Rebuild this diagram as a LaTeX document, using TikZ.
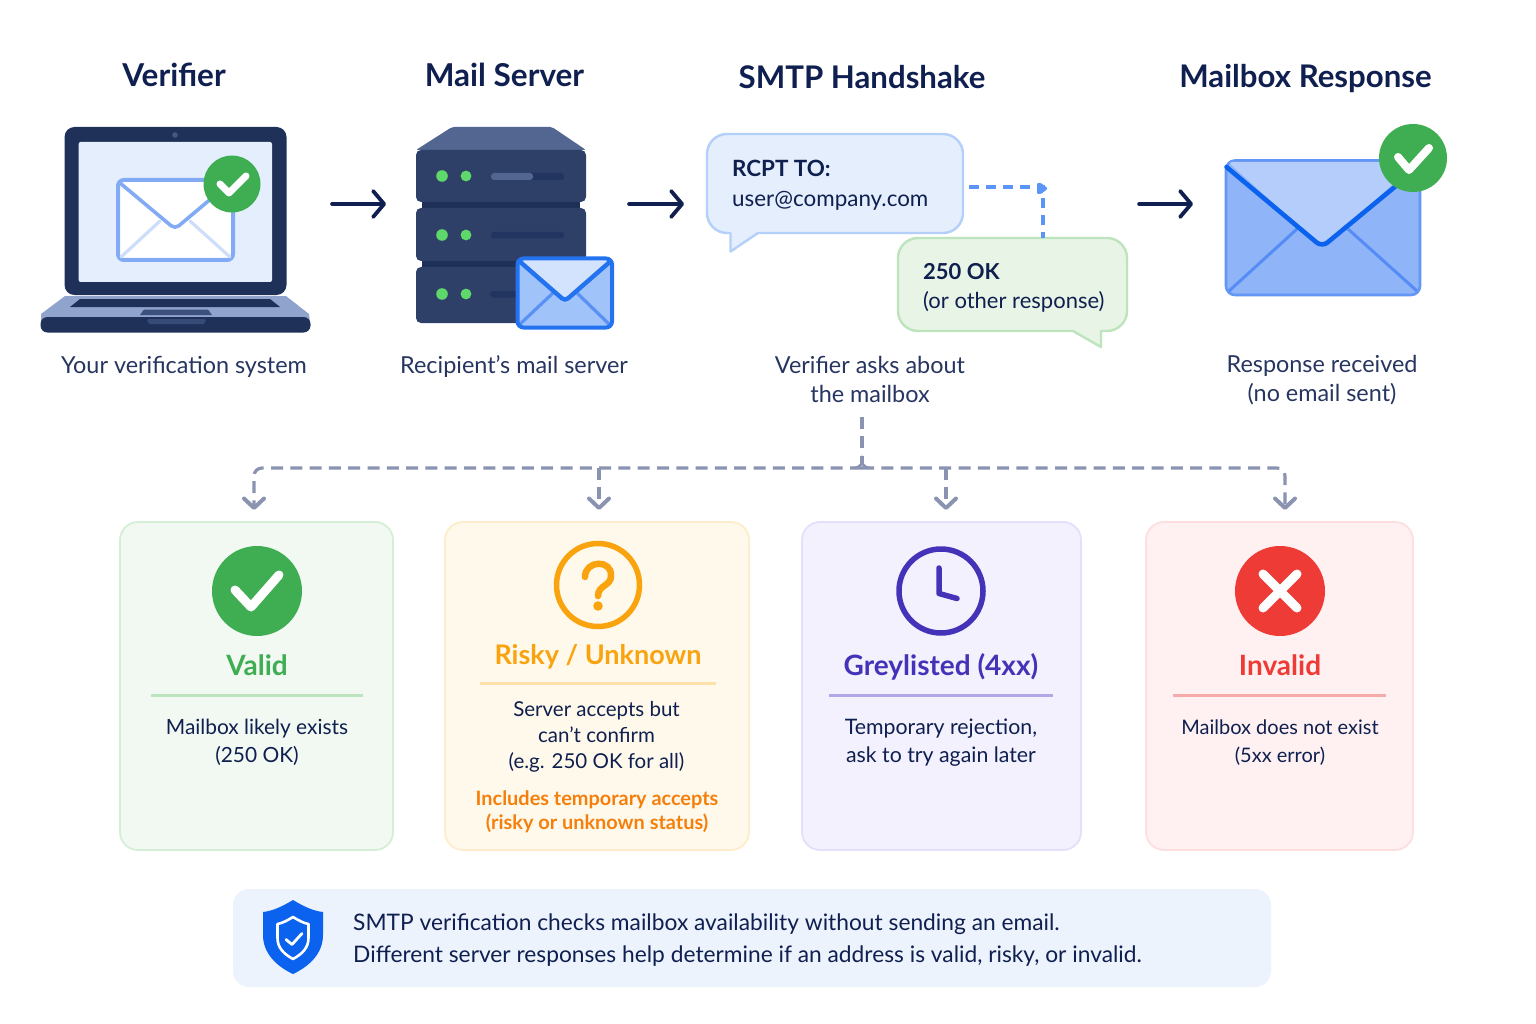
\documentclass[tikz,border=0pt]{standalone}
\usepackage{fontspec}
\setmainfont{Lato}
\usetikzlibrary{arrows.meta,calc}
\definecolor{navy}{HTML}{0F1F4F}
\definecolor{bezel}{HTML}{1F3159}
\definecolor{unitc}{HTML}{2E4068}
\definecolor{okgreen}{HTML}{3FAE52}
\definecolor{ledg}{HTML}{5FD86B}
\definecolor{flowc}{HTML}{8A93B0}
\definecolor{bluel}{HTML}{5B95F7}
\definecolor{blued}{HTML}{0B62EE}
\definecolor{oran}{HTML}{F9A30E}
\definecolor{oran2}{HTML}{F57F0A}
\definecolor{purp}{HTML}{4433B8}
\definecolor{redc}{HTML}{EE3B36}
\tikzset{
  heading/.style={text=navy,font=\fontsize{31.5}{36}\selectfont\bfseries,inner sep=0pt},
  caption/.style={text=navy!90!white,font=\fontsize{23.4}{29}\selectfont,align=center,inner sep=0pt},
  stepflow/.style={navy,line width=3.6pt,line cap=round,line join=round,-{Straight Barb[round,length=11pt,width=26pt,line width=3.8pt]}},
  holder/.style={minimum height=8pt,inner sep=0pt,outer sep=0pt},
  card/.style={rounded corners=18pt,line width=1.8pt,inner sep=0pt,minimum height=328pt},
  cardtitle/.style={font=\fontsize{28}{32}\selectfont\bfseries,inner sep=0pt},
  cardtext/.style={text=navy,font=\fontsize{20.9}{28}\selectfont,align=center,inner sep=0pt},
  rulel/.style={line width=3pt},
  treeline/.style={flowc,line width=3.2pt,dash pattern=on 12pt off 7.3pt,rounded corners=8pt},
  treearrow/.style={treeline,-{Straight Barb[round,length=9.5pt,width=20pt,line width=4pt]}},
  whitemark/.style={white,line cap=round,line join=round},
  bubtext/.style={text=navy,font=\fontsize{22.4}{30}\selectfont,align=left,inner sep=0pt,anchor=west},
}
\begin{document}
\begin{tikzpicture}[x=1pt,y=-1pt]
\useasboundingbox (0,0) rectangle (1536,1024);
\fill[white] (0,0) rectangle (1536,1024);

% headings
\node[heading] (hVer) at (174,75) {Verifier};
\node[heading] (hMail) at (504.5,75) {Mail Server};
\node[heading,font=\fontsize{31.2}{36}\selectfont\bfseries] (hSmtp) at (862,77) {SMTP Handshake};
\node[heading,font=\fontsize{31.2}{36}\selectfont\bfseries] (hBox) at (1305.5,79) {Mailbox Response};

% laptop
\fill[rounded corners=10pt,color=bezel] (64.5,127) rectangle (286.5,295);
\fill[rounded corners=2pt,fill={rgb,255:red,228;green,238;blue,252}] (78.7,142) rectangle (272,282);
\fill[fill={rgb,255:red,70;green,88;blue,130}] (175,135) circle[radius=2.8];
\fill[fill={rgb,255:red,143;green,163;blue,205}] (65,296) -- (286,296) -- (309,314) -- (310,322) -- (41,322) -- (41,314) -- cycle;
\fill[rounded corners=7pt,color=bezel] (40.5,317) -- (310.5,317) -- (310.5,332.5) -- (40.5,332.5) -- cycle;
\fill[color=bezel] (80,299) -- (270,299) -- (280,307) -- (70,307) -- cycle;
\fill[fill={rgb,255:red,60;green,80;blue,125}] (144,309.5) -- (208,309.5) -- (212,315) -- (140,315) -- cycle;
\fill[fill={rgb,255:red,55;green,75;blue,120},rounded corners=2pt] (147,319) -- (206,319) -- (205,324) -- (148,324) -- cycle;
% laptop envelope
\draw[rounded corners=6pt,line width=4pt,draw={rgb,255:red,130;green,170;blue,245},fill=white] (118,180) rectangle (233,260);
\draw[line width=3.2pt,draw={rgb,255:red,205;green,222;blue,250},line cap=round] (121,257) -- (160,221) (230,257) -- (190,221);
\draw[line width=3.6pt,draw={rgb,255:red,130;green,170;blue,245},line join=round,rounded corners=5pt] (120,183) -- (175,229) -- (225,187);
\fill[okgreen] (232,184) circle[radius=28.5];
\draw[whitemark,line width=7pt] (220,184) -- (229,193) -- (246,176);

% server
\fill[fill={rgb,255:red,82;green,102;blue,145},rounded corners=2pt] (452,127) -- (552,127) -- (586,150) -- (416,150) -- cycle;
\fill[fill={rgb,255:red,30;green,47;blue,88}] (422,198) rectangle (580,270);
\foreach \ya/\yb in {150/202,208/261,267/323}{
  \fill[unitc,rounded corners=5pt] (416,\ya) rectangle (586,\yb);
}
\foreach \yy in {176,235,294}{
  \fill[ledg] (442,\yy) circle[radius=5.8];
  \fill[ledg] (466,\yy) circle[radius=5.4];
}
\fill[fill={rgb,255:red,34;green,52;blue,96},rounded corners=3pt] (491,173) rectangle (564,180);
\fill[fill={rgb,255:red,82;green,102;blue,145},rounded corners=3pt] (491,173) rectangle (533,180);
\fill[fill={rgb,255:red,34;green,52;blue,96},rounded corners=3pt] (491,232) rectangle (564,238.5);
\fill[fill={rgb,255:red,34;green,52;blue,96},rounded corners=3pt] (490,291) rectangle (530,297.5);
% server envelope
\fill[rounded corners=6pt,fill={rgb,255:red,160;green,195;blue,250}] (517,258) rectangle (612,328);
\fill[fill={rgb,255:red,212;green,227;blue,253}] (519,260) -- (610,260) -- (565,300) -- cycle;
\draw[line width=3.2pt,draw={rgb,255:red,90;green,145;blue,245}] (519,325) -- (553,293) (610,325) -- (577,293);
\draw[line width=4.4pt,draw=blued!90!white,line join=round,rounded corners=4pt] (518,260) -- (565,301) -- (612,260);
\draw[rounded corners=6pt,line width=4pt,draw=blued!90!white] (517.5,258.5) rectangle (612,327.5);

% bubbles
\draw[line width=2.4pt,draw={rgb,255:red,180;green,208;blue,250},fill={rgb,255:red,228;green,238;blue,252},line join=round]
  (727,134) -- (943,134) arc[start angle=-90,end angle=0,radius=20] -- (963,213) arc[start angle=0,end angle=90,radius=20]
  -- (758,233) -- (730.5,251.5) -- (730.5,233) -- (727,233) arc[start angle=90,end angle=180,radius=20] -- (707,154) arc[start angle=180,end angle=270,radius=20] -- cycle;
\draw[line width=2.4pt,draw={rgb,255:red,190;green,228;blue,190},fill={rgb,255:red,232;green,245;blue,230},line join=round]
  (918,238) -- (1107,238) arc[start angle=-90,end angle=0,radius=20] -- (1127,311) arc[start angle=0,end angle=90,radius=20]
  -- (1101,331) -- (1101,347) -- (1073,331) -- (918,331) arc[start angle=90,end angle=180,radius=20] -- (898,258) arc[start angle=180,end angle=270,radius=20] -- cycle;
\node[minimum width=256pt,minimum height=99pt,inner sep=0pt] (bubA) at (835,183.5) {};
\node[minimum width=229pt,minimum height=93pt,inner sep=0pt] (bubB) at (1012.5,284.5) {};
\node[bubtext] (tA) at (732,185.5) {\textbf{RCPT TO:}\\user@company.com};
\node[bubtext,font=\fontsize{22}{29.5}\selectfont] (tB) at (923,288) {\textbf{250 OK}\\(or other response)};
\coordinate (bend) at (1043,187);
\draw[bluel,line width=3.4pt,dash pattern=on 10pt off 7pt] ([yshift=-3.5pt,xshift=6pt]bubA.east) -- (bend) -- ([xshift=30.5pt]bubB.north);
\fill[bluel,rounded corners=1pt] (1037,183) -- (1041,183) -- (1048,188.5) -- (1041,194) -- (1037,194) -- cycle;

% big envelope
\fill[rounded corners=9pt,fill={rgb,255:red,143;green,180;blue,248}] (1226,160.5) rectangle (1420,295);
\draw[rounded corners=9pt,line width=2.6pt,draw={rgb,255:red,100;green,150;blue,245}] (1226,160.5) rectangle (1420,295);
\fill[fill={rgb,255:red,180;green,205;blue,251},rounded corners=4pt] (1228,162) -- (1418,162) -- (1322,247) -- cycle;
\draw[line width=3pt,draw={rgb,255:red,85;green,140;blue,245}] (1229,291) -- (1297,229) (1417,291) -- (1348,229);
\draw[line width=4.6pt,draw=blued,line cap=round,rounded corners=7pt] (1226.5,167) -- (1322,247) -- (1408,176);
\fill[okgreen] (1413,158) circle[radius=34];
\draw[whitemark,line width=8pt] (1398,157) -- (1409,170) -- (1429,148);

% invisible icon holders for the top row arrows
\node[holder,minimum width=270pt] (laptop) at (175.5,204) {};
\node[holder,minimum width=197pt] (server) at (514.5,204) {};
\node[holder,minimum width=420pt] (shake) at (917,204) {};
\node[holder,minimum width=195pt] (envl) at (1322.5,204) {};
\draw[stepflow,shorten <=21.5pt,shorten >=30pt] (laptop.east) -- (server.west);
\draw[stepflow,shorten <=16pt,shorten >=23pt] (server.east) -- (shake.west);
\draw[stepflow,shorten <=12pt,shorten >=32pt] (shake.east) -- (envl.west);

% captions
\node[caption] (cVer) at (184,367) {Your verification system};
\node[caption] (cMail) at (514,366.5) {Recipient’s mail server};
\node[caption] (cSmtp) at (870,379.5) {Verifier asks about\\the mailbox};
\node[caption] (cBox) at (1322,380) {Response received\\(no email sent)};

% cards
\node[card,minimum width=273pt,draw={rgb,255:red,213;green,239;blue,215},fill={rgb,255:red,242;green,249;blue,242}] (cardV) at (256.5,686) {};
\node[card,minimum width=304pt,draw={rgb,255:red,254;green,236;blue,204},fill={rgb,255:red,255;green,249;blue,236}] (cardR) at (597,686) {};
\node[card,minimum width=279pt,draw={rgb,255:red,226;green,224;blue,251},fill={rgb,255:red,242;green,241;blue,253}] (cardG) at (941.5,686) {};
\node[card,minimum width=267pt,draw={rgb,255:red,254;green,223;blue,223},fill={rgb,255:red,255;green,241;blue,241}] (cardI) at (1279.5,686) {};

% tree
\coordinate (hub) at (862,468);
\coordinate (dropV) at (254,510);
\coordinate (dropR) at (599,510);
\coordinate (dropG) at (946,510);
\coordinate (dropI) at (1285,510);
\draw[treeline,shorten <=14pt,shorten >=4pt] (cSmtp.south -| hub) -- (hub);
\draw[treearrow] (hub) -| (dropV);
\draw[treearrow] (hub) -| (dropI);
\draw[treearrow] (hub -| dropR) -- (dropR);
\draw[treearrow] (hub -| dropG) -- (dropG);
\draw[flowc,line width=2.6pt,line cap=round] (855,468) .. controls (859,467) and (862,465) .. (862,461) .. controls (862,465) and (865,467) .. (869,468);

% valid
\fill[okgreen] (257,591) circle[radius=45];
\draw[whitemark,line width=9pt] (235,590) -- (251,607) -- (279,575);
\node[cardtitle,text=okgreen] (tV) at (257,665.5) {Valid};
\draw[rulel,draw={rgb,255:red,188;green,228;blue,190}] (151,695) -- (363,695);
\node[cardtext] (bV) at (257,742.5) {Mailbox likely exists\\(250 OK)};

% risky
\draw[oran,line width=5.5pt] (598,585) circle[radius=41.5];
\draw[oran,line width=6.5pt,line cap=round] (585,577) .. controls (585,560) and (612,559) .. (611,576) .. controls (611,586) and (598,585) .. (598,596);
\fill[oran] (598,606) circle[radius=4.8];
\node[cardtitle,text=oran,font=\fontsize{27}{32}\selectfont\bfseries] (tR) at (598,657) {Risky / Unknown};
\draw[rulel,draw={rgb,255:red,253;green,224;blue,170}] (480,683.5) -- (716,683.5);
\node[cardtext,font=\fontsize{20.5}{26}\selectfont] (bR) at (596.5,737) {Server accepts but\\can’t confirm\\(e.g. 250 OK for all)};
\node[cardtext,text=oran2,font=\fontsize{19.9}{24}\selectfont\bfseries] (nR) at (597,812) {Includes temporary accepts\\(risky or unknown status)};

% greylisted
\draw[purp,line width=5.5pt] (941,591) circle[radius=42];
\draw[purp,line width=5.5pt,line cap=round,line join=round] (939,568) -- (939,593.5) -- (957,598.5);
\node[cardtitle,text=purp] (tG) at (941,666.5) {Greylisted (4xx)};
\draw[rulel,draw={rgb,255:red,176;green,168;blue,232}] (829,695) -- (1053,695);
\node[cardtext,font=\fontsize{21.3}{28}\selectfont] (bG) at (941,742.5) {Temporary rejection,\\ask to try again later};

% invalid
\fill[redc] (1280,591) circle[radius=45];
\draw[whitemark,line width=9pt] (1263,574) -- (1297,608) (1297,574) -- (1263,608);
\node[cardtitle,text=redc] (tI) at (1280,665.5) {Invalid};
\draw[rulel,draw={rgb,255:red,247;green,170;blue,170}] (1173,695) -- (1386,695);
\node[cardtext,font=\fontsize{20}{28}\selectfont] (bI) at (1280,742.5) {Mailbox does not exist\\(5xx error)};

% banner
\node[fill={rgb,255:red,236;green,243;blue,252},rounded corners=16pt,minimum width=1038pt,minimum height=98pt,inner sep=0pt] (banner) at (752,938) {};
\fill[blued] (293,900) .. controls (303,906) and (313,911) .. (323,912) -- (323,935) .. controls (323,953) and (310,966) .. (293,974) .. controls (276,966) and (263,953) .. (263,935) -- (263,912) .. controls (273,911) and (283,906) .. (293,900) -- cycle;
\draw[white,line width=2.6pt,line join=round] (293,917) .. controls (298,920) and (303,923) .. (308.5,924) -- (308.5,938) .. controls (308.5,948) and (302,954) .. (293,959) .. controls (284,954) and (277.5,948) .. (277.5,938) -- (277.5,924) .. controls (283,923) and (288,920) .. (293,917) -- cycle;
\draw[whitemark,line width=2.8pt] (286,939.5) -- (292,944.5) -- (302,933.5);
\node[text=navy,font=\fontsize{22.75}{32}\selectfont,align=left,anchor=west,inner sep=0pt] (tBan) at (353,940) {SMTP verification checks mailbox availability without sending an email.\\Different server responses help determine if an address is valid, risky, or invalid.};
\end{tikzpicture}
\end{document}
